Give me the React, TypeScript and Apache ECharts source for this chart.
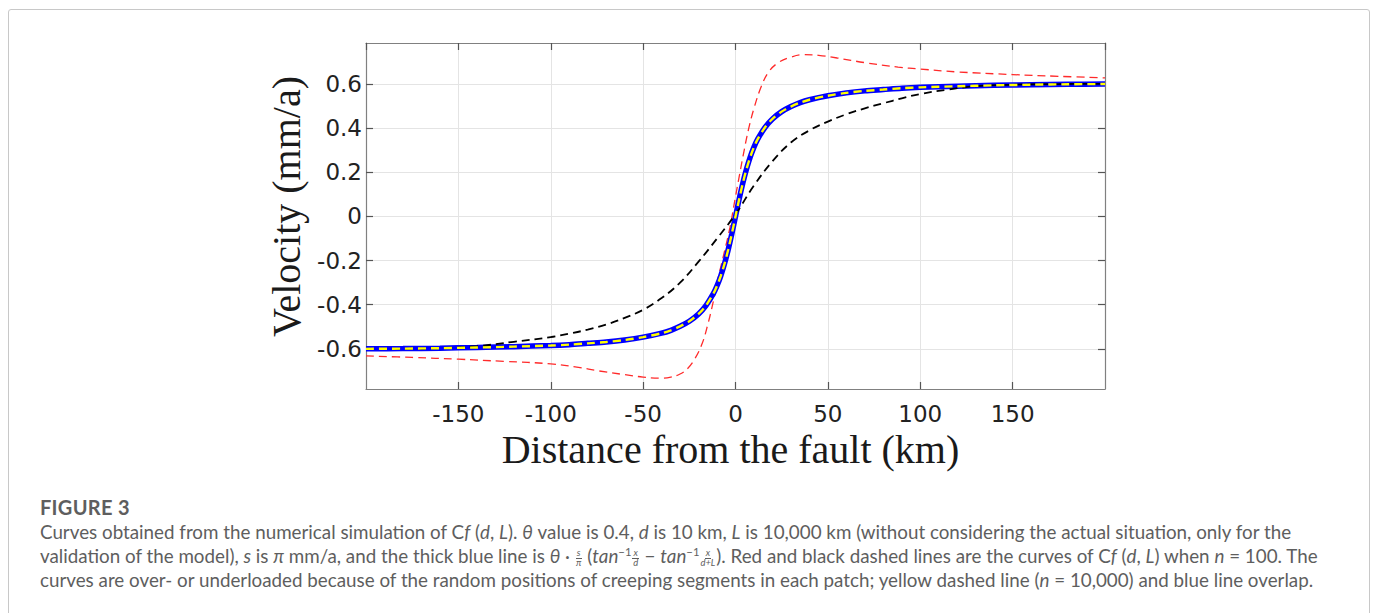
import React, { useEffect, useRef } from "react";
import * as echarts from "echarts";

// ---- data ----
const xTickLabels = [-150, -100, -50, 0, 50, 100, 150];
const yTickValues = [-0.6, -0.4, -0.2, 0, 0.2, 0.4, 0.6];

// thick blue line (theta * s/pi * (atan(x/d) - atan(x/(d+L)))) and yellow n = 10,000 (overlapping)
const blueX = [-200, -180, -160, -140, -120, -100, -90, -80, -70, -60, -50, -40, -35, -30, -25, -20, -16, -12, -10, -8, -6, -4, -2, 0, 2, 4, 6, 8, 10, 12, 16, 20, 25, 30, 35, 40, 50, 60, 70, 80, 90, 100, 120, 140, 160, 180, 200];
const blueY = [-0.600, -0.599, -0.597, -0.594, -0.590, -0.585, -0.581, -0.575, -0.569, -0.560, -0.547, -0.529, -0.516, -0.498, -0.475, -0.442, -0.404, -0.350, -0.314, -0.270, -0.216, -0.152, -0.079, 0, 0.079, 0.152, 0.216, 0.270, 0.314, 0.350, 0.404, 0.442, 0.475, 0.498, 0.516, 0.529, 0.547, 0.560, 0.569, 0.575, 0.581, 0.585, 0.590, 0.594, 0.597, 0.599, 0.600];
const yellowY = blueY;

// red dashed line (n = 100, overloaded)
const redX = [-200, -175, -150, -125, -100, -85, -74, -60, -50, -41, -35, -30, -26, -22, -18, -15, -12, -9, -6, -3, 0, 2, 4, 7, 10, 14, 18, 23, 30, 37, 45, 55, 70, 88, 100, 120, 150, 175, 200];
const redY = [-0.632, -0.639, -0.647, -0.657, -0.668, -0.684, -0.700, -0.717, -0.728, -0.733, -0.728, -0.714, -0.690, -0.645, -0.575, -0.490, -0.385, -0.265, -0.160, -0.050, 0.090, 0.180, 0.270, 0.393, 0.490, 0.590, 0.655, 0.696, 0.722, 0.733, 0.730, 0.718, 0.697, 0.677, 0.668, 0.655, 0.643, 0.635, 0.628];

// black dashed line (n = 100, underloaded)
const blackX = [-200, -180, -160, -140, -120, -100, -90, -80, -70, -60, -50, -40, -30, -20, -10, 0, 10, 20, 30, 40, 50, 60, 70, 80, 90, 100, 115, 130, 150, 175, 200];
const blackY = [-0.601, -0.600, -0.597, -0.588, -0.568, -0.547, -0.531, -0.513, -0.490, -0.460, -0.423, -0.370, -0.300, -0.205, -0.100, 0.010, 0.140, 0.250, 0.335, 0.390, 0.430, 0.463, 0.490, 0.513, 0.535, 0.555, 0.575, 0.590, 0.597, 0.600, 0.601];

const zip = (xs: number[], ys: number[]) => xs.map((x, i) => [x, ys[i]]);

const FRAME = "#808080";
const TICK = "#555555";
const GRIDLINE = "#e4e4e4";
const TICKFONT = "DejaVu Sans";

function Frac({ n, d }: { n: string; d: string }) {
  return (
    <span
      style={{
        display: "inline-flex",
        flexDirection: "column",
        alignItems: "center",
        verticalAlign: "middle",
        fontSize: "0.5em",
        lineHeight: 0.95,
        margin: "0 1px",
        fontStyle: "italic",
      }}
    >
      <span style={{ borderBottom: "1px solid currentColor", padding: "0 1px" }}>{n}</span>
      <span>{d}</span>
    </span>
  );
}

export default function App() {
  const ref = useRef<HTMLDivElement>(null);

  useEffect(() => {
    if (!ref.current) return;
    const chart = echarts.init(ref.current, undefined, { renderer: "svg" });
    const commonX = {
      type: "value" as const,
      min: -200,
      max: 200,
      interval: 50,
    };
    const commonY = {
      type: "value" as const,
      min: -0.782,
      max: 0.786,
    };
    chart.setOption({
      animation: false,
      grid: { left: 366, top: 43, width: 739, height: 346, show: false },
      xAxis: [
        {
          ...commonX,
          position: "bottom",
          axisLine: { show: true, onZero: false, lineStyle: { color: FRAME, width: 1.2 } },
          axisTick: { show: true, inside: true, length: 7, lineStyle: { color: TICK, width: 1.2 } },
          axisLabel: {
            showMinLabel: false,
            showMaxLabel: false,
            fontFamily: TICKFONT,
            fontSize: 23,
            color: "#222",
            margin: 13,
          },
          splitLine: { show: true, lineStyle: { color: GRIDLINE, width: 1 } },
          name: "Distance from the fault (km)",
          nameLocation: "middle",
          nameGap: 40,
          nameTextStyle: { fontFamily: "Liberation Serif", fontSize: 40, color: "#1a1a1a", padding: [0, 10, 0, 0] },
        },
        {
          ...commonX,
          position: "top",
          axisLine: { show: true, onZero: false, lineStyle: { color: FRAME, width: 1.2 } },
          axisTick: { show: true, inside: true, length: 7, lineStyle: { color: TICK, width: 1.2 } },
          axisLabel: { show: false },
          splitLine: { show: false },
        },
      ],
      yAxis: [
        {
          ...commonY,
          position: "left",
          axisLine: { show: true, onZero: false, lineStyle: { color: FRAME, width: 1.2 } },
          axisTick: { show: true, inside: true, length: 7, customValues: yTickValues, lineStyle: { color: TICK, width: 1.2 } },
          axisLabel: {
            customValues: yTickValues,
            formatter: (v: number) => (Math.abs(v) < 1e-9 ? "0" : v.toFixed(1)),
            fontFamily: TICKFONT,
            fontSize: 23,
            color: "#222",
            margin: 4,
          },
          splitLine: { show: true, lineStyle: { color: GRIDLINE, width: 1 } },
          name: "Velocity (mm/a)",
          nameLocation: "middle",
          nameGap: 51,
          nameTextStyle: { fontFamily: "Liberation Serif", fontSize: 40, color: "#1a1a1a", padding: [0, 0, 0, 19] },
        },
        {
          ...commonY,
          position: "right",
          axisLine: { show: true, onZero: false, lineStyle: { color: FRAME, width: 1.2 } },
          axisTick: { show: true, inside: true, length: 7, customValues: yTickValues, lineStyle: { color: TICK, width: 1.2 } },
          axisLabel: { show: false },
          splitLine: { show: false },
        },
      ],
      series: [
        {
          name: "n = 100 (red)",
          type: "line",
          data: zip(redX, redY),
          showSymbol: false,
          smooth: 0.4,
          lineStyle: { color: "#ff2a2a", width: 1.3, type: [8, 5] },
          z: 2,
        },
        {
          name: "analytic (blue)",
          type: "line",
          data: zip(blueX, blueY),
          showSymbol: false,
          smooth: 0.3,
          lineStyle: { color: "#0000ff", width: 5.5 },
          z: 3,
        },
        {
          name: "n = 100 (black)",
          type: "line",
          data: zip(blackX, blackY),
          showSymbol: false,
          smooth: 0.4,
          lineStyle: { color: "#000000", width: 1.8, type: [8, 5] },
          z: 4,
        },
        {
          name: "n = 10,000 (yellow)",
          type: "line",
          data: zip(blueX, yellowY),
          showSymbol: false,
          smooth: 0.3,
          lineStyle: { color: "#ffff00", width: 2.4, type: [8, 5] },
          z: 5,
        },
      ],
    });
    return () => chart.dispose();
  }, []);

  const captionColor = "#5e5e5e";
  const lineStyle: React.CSSProperties = { whiteSpace: "nowrap", height: 24, lineHeight: "24px" };

  return (
    <div style={{ position: "fixed", left: 0, top: 0, width: 1375, height: 613, overflow: "hidden", background: "#fff" }}>
      <div
        style={{
          position: "absolute",
          left: 8,
          top: 9,
          width: 1362,
          height: 700,
          border: "1px solid #c8c8c8",
          borderRadius: 3,
          boxSizing: "border-box",
        }}
      />
      <div ref={ref} style={{ position: "absolute", left: 0, top: 0, width: 1375, height: 480 }} />
      <div
        style={{
          position: "absolute",
          left: 40,
          top: 494,
          fontFamily: "Lato, 'Noto Sans', sans-serif",
          color: captionColor,
          fontSize: 18.8,
        }}
      >
        <div style={{ whiteSpace: "nowrap", height: 26, lineHeight: "26px", fontSize: 20, fontWeight: 700, letterSpacing: 0.3 }}>FIGURE 3</div>
        <div style={lineStyle}>
          Curves obtained from the numerical simulation of C<i>f</i> (<i>d</i>, <i>L</i>). <i>θ</i> value is 0.4, <i>d</i> is 10 km, <i>L</i> is 10,000 km (without considering the actual situation, only for the
        </div>
        <div style={lineStyle}>
          validation of the model), <i>s</i> is <i>π</i> mm/a, and the thick blue line is <i>θ</i> · <Frac n="s" d="π" /> (<i>tan</i>
          <sup style={{ fontSize: "0.6em", lineHeight: 0 }}>−1</sup>
          <Frac n="x" d="d" /> − <i>tan</i>
          <sup style={{ fontSize: "0.6em", lineHeight: 0 }}>−1</sup>
          <Frac n="x" d="d+L" />). Red and black dashed lines are the curves of C<i>f</i> (<i>d</i>, <i>L</i>) when <i>n</i> = 100. The
        </div>
        <div style={lineStyle}>
          curves are over- or underloaded because of the random positions of creeping segments in each patch; yellow dashed line (<i>n</i> = 10,000) and blue line overlap.
        </div>
      </div>
    </div>
  );
}
